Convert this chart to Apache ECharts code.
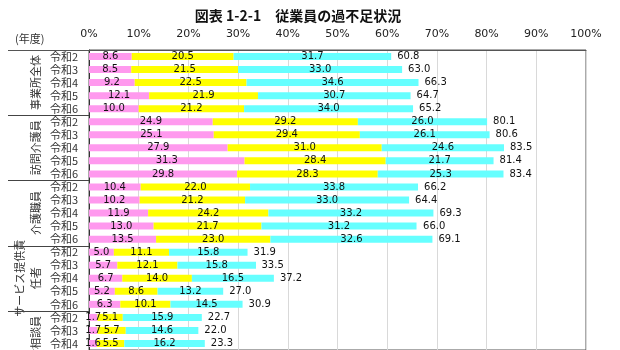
<!DOCTYPE html>
<html><head><meta charset="utf-8">
<script src="https://cdn.jsdelivr.net/npm/echarts@6/dist/echarts.min.js"></script>
<style>html,body{margin:0;padding:0;background:#fff}#c{width:620px;height:350px}</style>
</head><body><div id="c"></div>
<script>
const titleText = '図表 1-2-1　従業員の過不足状況';
const yearUnit = '(年度)';
const groups = ['事業所全体', '訪問介護員', '介護職員', 'サービス提供責\n任者', '生活相談員'];
const years = ['令和2', '令和3', '令和4', '令和5', '令和6'];
const xTicks = [0, 10, 20, 30, 40, 50, 60, 70, 80, 90, 100];
const seriesNames = ['大いに不足', '不足', 'やや不足', '合計'];
const taiini = [8.6, 8.5, 9.2, 12.1, 10.0, 24.9, 25.1, 27.9, 31.3, 29.8, 10.4, 10.2, 11.9, 13.0, 13.5, 5.0, 5.7, 6.7, 5.2, 6.3, 1.7, 1.7, 1.6];
const fusoku = [20.5, 21.5, 22.5, 21.9, 21.2, 29.2, 29.4, 31.0, 28.4, 28.3, 22.0, 21.2, 24.2, 21.7, 23.0, 11.1, 12.1, 14.0, 8.6, 10.1, 5.1, 5.7, 5.5];
const yaya = [31.7, 33.0, 34.6, 30.7, 34.0, 26.0, 26.1, 24.6, 21.7, 25.3, 33.8, 33.0, 33.2, 31.2, 32.6, 15.8, 15.8, 16.5, 13.2, 14.5, 15.9, 14.6, 16.2];
const total = [60.8, 63.0, 66.3, 64.7, 65.2, 80.1, 80.6, 83.5, 81.4, 83.4, 66.2, 64.4, 69.3, 66.0, 69.1, 31.9, 33.5, 37.2, 27.0, 30.9, 22.7, 22.0, 23.3];

const colors = ['#ff99ee', '#ffff00', '#66ffff'];
const numFont = 'DejaVu Sans';
const jpFont = 'Noto Sans CJK JP';

const cats = taiini.map((v, i) => i + '|' + years[i % years.length]);

const chart = echarts.init(document.getElementById('c'));
const lbl = {
  show: true, position: 'inside', color: '#111', fontFamily: numFont, fontSize: 10,
  formatter: p => p.value.toFixed(1)
};
const mk = (name, data, color) => ({
  name, type: 'bar', stack: 's', data, barWidth: 7, barGap: '-100%',
  itemStyle: { color }, label: lbl, silent: true
});
chart.setOption({
  animation: false,
  title: { text: titleText, left: 293, top: 4, textAlign: 'center',
    textStyle: { fontFamily: jpFont, fontSize: 14, fontWeight: 'bold', color: '#111' } },
  grid: { left: 89, right: 34, top: 50, height: 302.5, show: true, borderColor: '#555', borderWidth: 1 },
  xAxis: {
    type: 'value', position: 'top', min: 0, max: 100, interval: 10,
    axisLine: { show: true, lineStyle: { color: '#555' } },
    axisTick: { show: false },
    splitLine: { lineStyle: { color: '#d9d9d9' } },
    axisLabel: { margin: 10, color: '#222', fontFamily: numFont, fontSize: 11,
      formatter: v => xTicks.includes(v) ? v + '%' : '' }
  },
  yAxis: {
    type: 'category', inverse: true, data: cats,
    axisLine: { show: true, lineStyle: { color: '#333' } },
    axisTick: { show: false },
    axisLabel: { interval: 0, margin: 11, color: '#333', fontFamily: jpFont, fontSize: 11,
      formatter: v => v.split('|')[1] }
  },
  series: [
    mk(seriesNames[0], taiini, colors[0]),
    mk(seriesNames[1], fusoku, colors[1]),
    mk(seriesNames[2], yaya, colors[2]),
    { name: seriesNames[3], type: 'bar', data: total, barWidth: 7, barGap: '-100%', silent: true,
      itemStyle: { color: 'rgba(0,0,0,0)' },
      label: { show: true, position: 'right', distance: 6, color: '#111', fontFamily: numFont, fontSize: 10,
        formatter: p => p.value.toFixed(1) } }
  ]
});

// group labels and separators
const gLeft = 89;
const yc = i => chart.convertToPixel({ yAxisIndex: 0 }, i);
const graphics = [];
graphics.push({ type: 'text', left: 15, top: 33,
  style: { text: yearUnit, fontFamily: jpFont, fontSize: 11, fill: '#333' } });
graphics.push({ type: 'line', shape: { x1: 8, y1: 50.5, x2: gLeft, y2: 50.5 },
  style: { stroke: '#555', lineWidth: 1 } });
const n = years.length;
const lineStep = 16;
groups.forEach((g, gi) => {
  const cy = yc(gi * n + Math.floor(n / 2));
  const parts = g.split('\n');
  parts.forEach((p, k) => {
    const cx = 36 - (parts.length - 1 - k) * lineStep;
    graphics.push({ type: 'text', x: cx, y: cy, rotation: Math.PI / 2,
      style: { text: p, fontFamily: jpFont, fontSize: 11, fill: '#333',
        align: 'center', verticalAlign: 'middle', textAlign: 'center', textVerticalAlign: 'middle' } });
  });
  if (gi > 0 && gi * n < cats.length) {
    const yb = Math.round((yc(gi * n - 1) + yc(gi * n)) / 2) + 0.5;
    graphics.push({ type: 'line', shape: { x1: 8, y1: yb, x2: gLeft, y2: yb },
      style: { stroke: '#444', lineWidth: 1 } });
  }
});
chart.setOption({ graphic: graphics });
</script>
</body></html>
